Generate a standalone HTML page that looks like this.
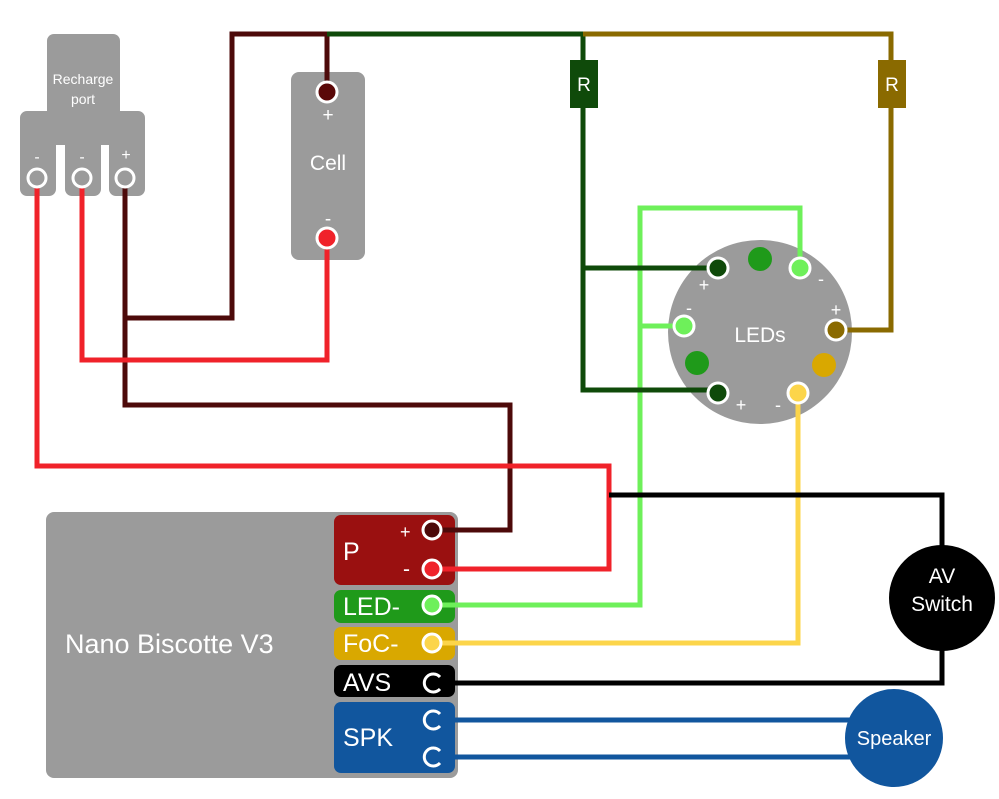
<!DOCTYPE html>
<html><head><meta charset="utf-8"><style>
html,body{margin:0;padding:0;background:#fff;}
svg{display:block;}
text{font-family:"Liberation Sans",sans-serif;fill:#fff;}
</style></head><body>
<svg width="999" height="799" viewBox="0 0 999 799" xmlns="http://www.w3.org/2000/svg">
<!-- Recharge port -->
<rect x="47" y="34" width="73" height="90" rx="7" fill="#9b9b9b"/>
<path d="M27 111 H138 a7 7 0 0 1 7 7 V189 a7 7 0 0 1 -7 7 H116 a7 7 0 0 1 -7 -7 V145 H101 V189 a7 7 0 0 1 -7 7 H72 a7 7 0 0 1 -7 -7 V145 H56 V189 a7 7 0 0 1 -7 7 H27 a7 7 0 0 1 -7 -7 V118 a7 7 0 0 1 7 -7 Z" fill="#9b9b9b"/>
<text x="83" y="84" font-size="14" text-anchor="middle">Recharge</text>
<text x="83" y="104" font-size="14" text-anchor="middle">port</text>
<text x="37" y="162" font-size="16" text-anchor="middle">-</text>
<text x="82" y="162" font-size="16" text-anchor="middle">-</text>
<text x="126" y="160" font-size="16" text-anchor="middle">+</text>
<!-- Cell -->
<rect x="291" y="72" width="74" height="188" rx="8" fill="#9b9b9b"/>
<text x="328" y="121" font-size="19" text-anchor="middle">+</text>
<text x="328" y="170" font-size="21" text-anchor="middle">Cell</text>
<text x="328" y="225" font-size="19" text-anchor="middle">-</text>
<!-- Board -->
<rect x="46" y="512" width="412" height="266" rx="8" fill="#9b9b9b"/>
<text x="65" y="653" font-size="27">Nano Biscotte V3</text>
<rect x="334" y="515" width="121" height="70" rx="7" fill="#9a1010"/>
<rect x="334" y="590" width="121" height="33" rx="7" fill="#1f9a1a"/>
<rect x="334" y="627" width="121" height="33" rx="7" fill="#d9a800"/>
<rect x="334" y="665" width="121" height="32" rx="7" fill="#000"/>
<rect x="334" y="702" width="121" height="71" rx="7" fill="#11569e"/>
<text x="343" y="560" font-size="25">P</text>
<text x="400" y="538" font-size="18">+</text>
<text x="403" y="576" font-size="21">-</text>
<text x="343" y="615" font-size="25">LED-</text>
<text x="343" y="652" font-size="25">FoC-</text>
<text x="343" y="691" font-size="25">AVS</text>
<text x="343" y="746" font-size="25">SPK</text>
<!-- LED disc -->
<circle cx="760" cy="332" r="92" fill="#9b9b9b"/>
<text x="760" y="342" font-size="21" text-anchor="middle">LEDs</text>
<circle cx="760" cy="259" r="12" fill="#1f9a1a"/>
<circle cx="697" cy="363" r="12" fill="#1f9a1a"/>
<circle cx="824" cy="365" r="12" fill="#d9a800"/>
<text x="704" y="291" font-size="18" text-anchor="middle">+</text>
<text x="821" y="285" font-size="18" text-anchor="middle">-</text>
<text x="689" y="314" font-size="18" text-anchor="middle">-</text>
<text x="836" y="316" font-size="18" text-anchor="middle">+</text>
<text x="741" y="411" font-size="18" text-anchor="middle">+</text>
<text x="778" y="411" font-size="18" text-anchor="middle">-</text>
<!-- wires -->
<g fill="none" stroke-width="5" stroke-linejoin="miter">
<path d="M327 92 V34 H232 V318 H125 V178 M125 318 V405 H510 V530 H432" stroke="#4d0a0a"/>
<path d="M37 178 V466 H609 V569 H432" stroke="#f0222a"/>
<path d="M82 178 V360 H327 V238" stroke="#f0222a"/>
<path d="M800 268 V208 H640 V605 H432 M640 326 H684" stroke="#6ef05a"/>
<path d="M327 34 H583 V390 H718 M583 268 H718" stroke="#0f4a0a"/>
<path d="M583 34 H891 V330 H836" stroke="#8a6a00"/>
<path d="M798 393 V643 H432" stroke="#fcd54a"/>
<path d="M432 683 H942 V495 H609" stroke="#000"/>
<path d="M432 720 H894 M432 757 H894" stroke="#11569e"/>
</g>
<!-- resistors -->
<rect x="570" y="60" width="28" height="48" fill="#0f4a0a"/>
<text x="584" y="91" font-size="19" text-anchor="middle">R</text>
<rect x="878" y="60" width="28" height="48" fill="#8a6a00"/>
<text x="892" y="91" font-size="19" text-anchor="middle">R</text>
<!-- terminals -->
<g stroke="#fff" stroke-width="3">
<circle cx="37" cy="178" r="9" fill="#9b9b9b"/>
<circle cx="82" cy="178" r="9" fill="#9b9b9b"/>
<circle cx="125" cy="178" r="9" fill="#9b9b9b"/>
<circle cx="327" cy="92" r="10" fill="#5a0808"/>
<circle cx="327" cy="238" r="10" fill="#f0222a"/>
<circle cx="718" cy="268" r="10" fill="#0f4a0a"/>
<circle cx="800" cy="268" r="10" fill="#6ef05a"/>
<circle cx="684" cy="326" r="10" fill="#6ef05a"/>
<circle cx="836" cy="330" r="10" fill="#8a6a00"/>
<circle cx="718" cy="393" r="10" fill="#0f4a0a"/>
<circle cx="798" cy="393" r="10" fill="#fcd54a"/>
<circle cx="432" cy="530" r="9" fill="#4d0a0a"/>
<circle cx="432" cy="569" r="9" fill="#f0222a"/>
<circle cx="432" cy="605" r="9" fill="#6ef05a"/>
<circle cx="432" cy="643" r="9" fill="#fcd54a"/>
</g>
<g fill="none" stroke="#fff" stroke-width="3">
<path d="M440 677 A9 9 0 1 0 440 689"/>
<path d="M440 714 A9 9 0 1 0 440 726"/>
<path d="M440 751 A9 9 0 1 0 440 763"/>
</g>
<!-- AV switch, speaker -->
<circle cx="942" cy="598" r="53" fill="#000"/>
<text x="942" y="583" font-size="21" text-anchor="middle">AV</text>
<text x="942" y="611" font-size="21" text-anchor="middle">Switch</text>
<circle cx="894" cy="738" r="49" fill="#11569e"/>
<text x="894" y="745" font-size="20" text-anchor="middle">Speaker</text>
</svg>
</body></html>
